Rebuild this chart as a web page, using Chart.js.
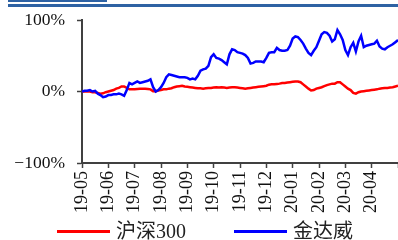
<!DOCTYPE html>
<html>
<head>
<meta charset="utf-8">
<script src="https://cdn.jsdelivr.net/npm/chart.js@4/dist/chart.umd.min.js"></script>
<style>
  html, body { margin: 0; padding: 0; background: #fff; }
  #wrap { position: relative; width: 398px; height: 240px; overflow: hidden; }
  #c { position: absolute; left: 0; top: 0; }
  .bar1 { position: absolute; left: 8px; top: 0; width: 99px; height: 2px; background: #2e62a3; }
  .bar2 { position: absolute; left: 8px; top: 4px; width: 390px; height: 2.5px; background: #2e62a3; }
  .lg-line { position: absolute; height: 3px; top: 230px; }
  .lg-text { position: absolute; top: 219px; font-family: "Liberation Serif", "Noto Sans CJK SC", serif; font-size: 20px; line-height: 24px; color: #222; white-space: nowrap; }
</style>
</head>
<body>
<div id="wrap">
  <canvas id="c" width="398" height="240"></canvas>
  <div class="bar1"></div>
  <div class="bar2"></div>
  <div class="lg-line" style="left:57px;width:53px;background:#ff0000;"></div>
  <div class="lg-text" id="lg1" style="left:116px;"></div>
  <div class="lg-line" style="left:234px;width:53px;background:#0000ff;"></div>
  <div class="lg-text" id="lg2" style="left:293px;"></div>
</div>
<script>
// Series names
const seriesNames = ['沪深300', '金达威'];
// Month tick labels (one per month boundary; last boundary unlabeled)
const monthLabels = ['19-05','19-06','19-07','19-08','19-09','19-10','19-11','19-12','20-01','20-02','20-03','20-04',''];
// Cumulative return (%) sampled every ~0.1 month, from 2019-05 to 2020-05
const hs300 = [0,0,0,0,-1,-1,-2,-3,-2.5,-1,
  0,1,2,4,5,7,7,5,3,3,
  3,3.5,4,4,4,3.5,3,0.5,0.5,1.5,
  2,3,3,4,4.5,6,7,7.5,8,7,
  6.5,6,5.5,5,4.5,4.5,4,4.5,5,5,
  5.5,6,5.5,6,5.5,5,5.5,6,6,5.5,
  5,4.5,4,4.5,5,5.5,6,6.5,7,7.5,
  8,9.5,10,10,10.5,11,12,12,12.5,13,
  13.5,14,14,13,10,7,4,1.5,2,4,
  5,6,7.5,9,10,11,11,13,13,10,
  7,4,2,-2,-3,-1,0,0.5,1,1.5,
  2,2.5,3,4,4.5,5,5,5.5,6,7,8];
const jdw = [0,1,1,2,0,1,-3,-5,-8,-7,
  -5,-5,-4,-4,-3,-4,-6,2,12,10,
  12,14,12,13,14,15,17,6,0,2,
  6,12,20,24,23,22,21,20,20,20,
  19,17,18,17,22,29,31,32,36,48,
  52,47,46,44,41,38,52,59,58,55,
  54,53,51,47,39,40,42,42,42,41,
  47,54,55,55,61,58,57,57,58,64,
  74,77,76,72,67,60,54,51,57,62,
  71,80,83,82,78,70,73,86,80,72,
  58,51,62,68,56,70,78,62,64,65,
  66,67,71,63,60,59,62,64,66,69,72];
// Samples per month on the x axis
const samplesPerMonth = 10;

document.getElementById('lg1').textContent = seriesNames[0];
document.getElementById('lg2').textContent = seriesNames[1];

const toXY = arr => arr.map((v, i) => ({ x: i, y: v }));
const axisColor = '#404040';
const serif = '"Liberation Serif", "Times New Roman", serif';

new Chart(document.getElementById('c'), {
  type: 'line',
  data: {
    datasets: [
      { label: seriesNames[0], data: toXY(hs300), borderColor: '#ff0000', borderWidth: 2.5, pointRadius: 0, tension: 0, order: 1 },
      { label: seriesNames[1], data: toXY(jdw), borderColor: '#0000ff', borderWidth: 2.5, pointRadius: 0, tension: 0, order: 0 }
    ]
  },
  options: {
    responsive: false,
    animation: false,
    devicePixelRatio: 1,
    layout: { padding: { top: 20, left: 0, right: 0, bottom: 0 } },
    plugins: { legend: { display: false }, tooltip: { enabled: false } },
    scales: {
      x: {
        type: 'linear',
        min: 0,
        max: (monthLabels.length - 1) * samplesPerMonth,
        afterFit: s => { s.height = 77; s.paddingLeft = 0; s.paddingRight = 0; },
        ticks: {
          stepSize: samplesPerMonth,
          autoSkip: false,
          minRotation: 90,
          maxRotation: 90,
          padding: 3,
          color: '#111',
          font: { family: serif, size: 18 },
          callback: v => monthLabels[Math.round(v / samplesPerMonth)] ?? ''
        },
        grid: { drawOnChartArea: false, drawTicks: true, tickLength: 5, tickColor: axisColor, tickWidth: 1.5 },
        border: { display: true, color: axisColor, width: 2 }
      },
      y: {
        min: -100,
        max: 100,
        afterFit: s => { s.width = 82; s.paddingTop = 0; s.paddingBottom = 0; },
        ticks: {
          stepSize: 100,
          padding: 12,
          color: '#111',
          font: { family: serif, size: 17.5 },
          callback: v => (v < 0 ? '\u2212' + Math.abs(v) : v) + '%'
        },
        grid: { drawOnChartArea: false, drawTicks: true, tickLength: 5, tickColor: axisColor, tickWidth: 1.5 },
        border: { display: true, color: axisColor, width: 2 }
      }
    }
  }
});
</script>
</body>
</html>
